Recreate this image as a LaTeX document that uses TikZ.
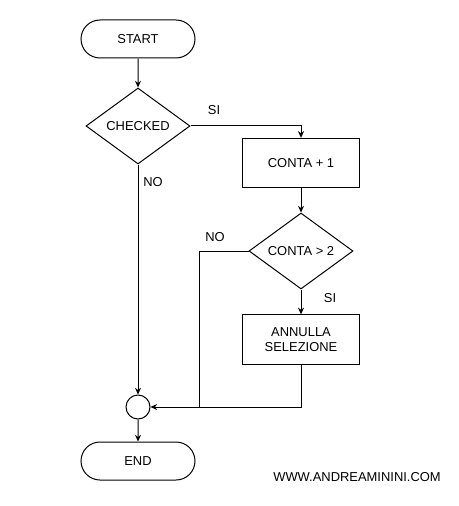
\documentclass[tikz,border=0pt]{standalone}
\usepackage{fontspec}
\setmainfont{Liberation Sans}
\usetikzlibrary{shapes.geometric,shapes.misc,arrows.meta}
\begin{document}
\begin{tikzpicture}[x=0.75pt,y=-0.75pt,
  font=\fontsize{9.7}{11.5}\selectfont,
  line width=0.75pt,
  terminal/.style={draw, rounded rectangle, minimum width=85.5pt, minimum height=28.5pt, inner sep=0pt},
  decision/.style={draw, diamond, minimum width=78pt, minimum height=57pt, inner sep=0pt},
  process/.style={draw, rectangle, minimum width=88pt, minimum height=37pt, inner sep=0pt, align=center},
  junction/.style={draw, circle, minimum size=18pt, inner sep=0pt},
  flow/.style={-{Stealth[length=5pt,width=4.5pt]}},
  lbl/.style={inner sep=0pt}]
\useasboundingbox (0,0) rectangle (458,506);

\node[terminal] (start) at (138,39) {START};
\node[decision] (checked) at (138,126) {CHECKED};
\node[process] (conta1) at (301,163) {CONTA + 1};
\node[decision] (conta2) at (301,251) {CONTA > 2};
\node[process] (annulla) at (301,339.5) {ANNULLA\\SELEZIONE};
\node[junction] (join) at (138,407) {};
\node[terminal] (end) at (138,461) {END};
\coordinate (m) at (199,407);

\draw[flow] (start) -- (checked);
\draw[flow] (checked.east) -| (conta1.north);
\draw[flow] (conta1) -- (conta2);
\draw[flow] (conta2) -- (annulla);
\draw[flow] (checked) -- (join);
\draw[flow] (annulla.south) |- (join.east);
\draw (conta2.west) -| (m);
\draw[flow] (join) -- (end);

\node[lbl] (si1) at (214,110) {SI};
\node[lbl] (no1) at (153,182) {NO};
\node[lbl] (no2) at (215,237) {NO};
\node[lbl] (si2) at (330,298) {SI};
\node[lbl] (www) at (357,477) {WWW.ANDREAMININI.COM};
\end{tikzpicture}
\end{document}
